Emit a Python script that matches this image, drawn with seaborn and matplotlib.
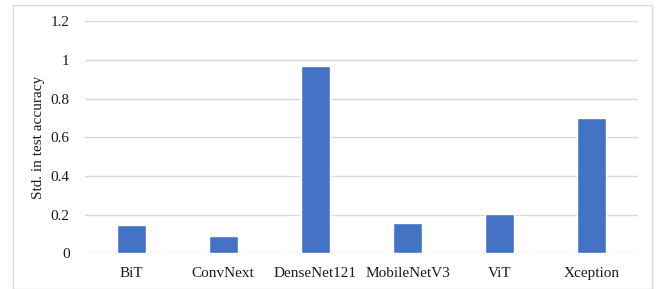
import matplotlib
matplotlib.use("Agg")
import matplotlib.pyplot as plt
import seaborn as sns
import pandas as pd
from matplotlib.patches import Rectangle

# data
models = ['BiT', 'ConvNext', 'DenseNet121', 'MobileNetV3', 'ViT', 'Xception']
std_acc = [0.147, 0.087, 0.968, 0.157, 0.203, 0.698]

df = pd.DataFrame({'model': models, 'std': std_acc})

sns.set_style("white")
plt.rcParams['font.family'] = ['Liberation Serif', 'DejaVu Serif']

fig = plt.figure(figsize=(6.64, 2.89), dpi=100)
ax = fig.add_axes([85 / 664, 1 - 253.3 / 289, 553 / 664, (253.3 - 21.4) / 289])

sns.barplot(data=df, x='model', y='std', color='#4472C4', width=0.315,
            saturation=1, ax=ax, zorder=3)

ax.set_ylim(0, 1.2)
ax.set_yticks([0, 0.2, 0.4, 0.6, 0.8, 1, 1.2])
ax.set_yticklabels(['0', '0.2', '0.4', '0.6', '0.8', '1', '1.2'])
ax.set_xlim(-0.5, len(models) - 0.5)
ax.grid(axis='y', color='#d9d9d9', linewidth=1, zorder=0)
ax.set_axisbelow(True)
for s in ax.spines.values():
    s.set_visible(False)
ax.tick_params(axis='both', length=0, labelsize=11, colors='#1a1a1a')
ax.tick_params(axis='y', pad=11)
ax.tick_params(axis='x', pad=10)
ax.set_xlabel('')
ax.set_ylabel('Std. in test accuracy', fontsize=11, color='#1a1a1a')
ax.yaxis.set_label_coords(-0.072, 0.5)

# light grey frame around the whole chart
fig.patches.append(Rectangle((12.5 / 664, 0.5 / 289), 639 / 664, 284 / 289,
                             transform=fig.transFigure, fill=False,
                             edgecolor='#d9d9d9', linewidth=1))

fig.savefig('out.png', dpi=100)
